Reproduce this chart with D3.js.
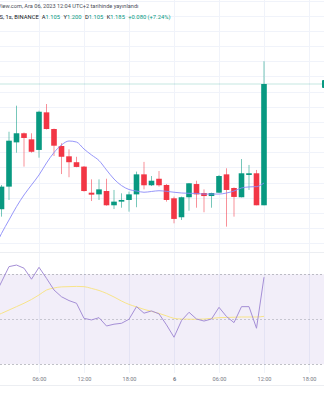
<!DOCTYPE html>
<html><head><meta charset="utf-8">
<script src="https://cdn.jsdelivr.net/npm/d3@7"></script>
<style>
html,body{margin:0;padding:0;background:#fff;overflow:hidden}
svg{display:block}
text{font-family:Roboto,"Noto Sans",sans-serif}
</style>
</head><body>
<svg id="chart" width="324" height="400"></svg>
<script>
// Hourly bars, Dec 5 00:00 -> Dec 6 12:00
const firstBar = Date.UTC(2023, 11, 5, 0, 0);
const opens  = [1.0990,1.1024,1.1173,1.1465,1.1525,1.1485,1.1415,1.1663,1.1553,1.1441,1.1373,1.1334,1.1305,1.1133,1.1122,1.1144,1.1050,1.1074,1.1085,1.1122,1.1254,1.1182,1.1225,1.1184,1.1096,1.0971,1.1103,1.1190,1.1131,1.1111,1.1133,1.1254,1.1164,1.1103,1.1250,1.1261,1.1050];
const highs  = [1.1030,1.1184,1.1535,1.1707,1.1530,1.1525,1.1674,1.1718,1.1556,1.1459,1.1419,1.1370,1.1309,1.1221,1.1221,1.1225,1.1151,1.1129,1.1140,1.1272,1.1336,1.1243,1.1276,1.1190,1.1107,1.1107,1.1197,1.1212,1.1155,1.1133,1.1250,1.1294,1.1168,1.1355,1.1316,1.1283,1.2000];
const lows   = [1.0960,1.0975,1.1085,1.1397,1.1305,1.1397,1.1364,1.1550,1.1375,1.1256,1.1235,1.1301,1.1140,1.1078,1.1085,1.1047,1.1025,1.1034,1.1008,1.1037,1.1155,1.1177,1.1173,1.1074,1.0931,1.0953,1.1014,1.1034,1.1004,1.1034,1.1131,1.0909,1.0975,1.1102,1.1151,1.1050,1.1050];
const closes = [1.1024,1.1173,1.1476,1.1525,1.1494,1.1403,1.1667,1.1553,1.1443,1.1370,1.1334,1.1303,1.1144,1.1120,1.1155,1.1050,1.1074,1.1085,1.1122,1.1254,1.1182,1.1212,1.1182,1.1085,1.0960,1.1103,1.1195,1.1122,1.1111,1.1131,1.1243,1.1151,1.1105,1.1261,1.1261,1.1050,1.1850];
const maValues = [1.0762,1.0864,1.0953,1.1041,1.1118,1.1184,1.1250,1.1329,1.1398,1.1448,1.1474,1.1467,1.1421,1.1382,1.1345,1.1283,1.1223,1.1180,1.1154,1.1144,1.1136,1.1141,1.1146,1.1142,1.1136,1.1131,1.1129,1.1128,1.1124,1.1124,1.1124,1.1131,1.1144,1.1164,1.1171,1.1173,1.1197];
const rsiValues = [59.9,66.6,73.4,74.1,72.7,67.8,73.1,68.2,63.0,60.0,58.3,57.1,50.4,49.7,50.7,47.0,47.8,48.2,50.0,55.6,52.7,53.7,52.4,47.5,42.0,49.4,53.1,50.1,49.2,50.1,55.3,51.2,48.5,55.6,55.6,46.0,68.7];
const rsiMaValues = [51.2,52.6,54.1,55.6,57.1,58.8,60.8,63.0,63.9,64.4,64.5,64.6,64.5,63.7,62.8,61.5,59.9,58.1,56.6,55.5,54.4,53.5,52.6,51.5,50.4,50.1,50.0,50.0,50.1,50.4,50.7,50.8,50.9,51.0,51.0,51.0,51.3];
const rsiLevels = [70, 50, 30];
const tickTimes = [Date.UTC(2023,11,5,6),Date.UTC(2023,11,5,12),Date.UTC(2023,11,5,18),Date.UTC(2023,11,6,0),Date.UTC(2023,11,6,6),Date.UTC(2023,11,6,12),Date.UTC(2023,11,6,18)];
const tickLabels = ["06:00","12:00","18:00","6","06:00","12:00","18:00"];
const priceGrid = d3.range(108, 125).map(v => v / 100);
const headerLine1 = "TradingView.com, Ara 06, 2023 12:04 UTC+2 tarihinde yayınlandı";
const symbolText = "S, 1s, BINANCE";
const ohlcLabels = ["A", "Y", "D", "K"];
const ohlcText = ["1.105", "1.200", "1.105", "1.185"];
const changeText = "+0.080 (+7.24%)";
const lastPrice = 1.185;

const UP = "#089981", DOWN = "#f23645";
const W = 324;
const bars = opens.map((o, i) => ({
  t: new Date(firstBar + i * 3600e3), o, h: highs[i], l: lows[i], c: closes[i],
  ma: maValues[i], rsi: rsiValues[i], rsiMa: rsiMaValues[i]
}));

const svg = d3.select("#chart");
const x = d3.scaleUtc()
  .domain([new Date(Date.UTC(2023,11,5,0,48)), new Date(Date.UTC(2023,11,6,20,0))])
  .range([0, W]);
const mainTop = 0, mainBottom = 252;
const y = d3.scaleLinear().domain([1.07418, 1.24041]).range([mainBottom, mainTop]);
const rsiTop = 252, rsiBottom = 373;
const yr = d3.scaleLinear().domain([26.1, 79.9]).range([rsiBottom, rsiTop]);

// vertical grid
svg.append("g").selectAll("line").data(tickTimes).join("line")
  .attr("x1", d => Math.round(x(d)) + 0.5).attr("x2", d => Math.round(x(d)) + 0.5)
  .attr("y1", 0).attr("y2", rsiBottom)
  .attr("stroke", "#f0f3fa").attr("stroke-width", 1);

// horizontal price grid
svg.append("g").selectAll("line").data(priceGrid).join("line")
  .attr("x1", 0).attr("x2", W)
  .attr("y1", d => Math.round(y(d)) + 0.5).attr("y2", d => Math.round(y(d)) + 0.5)
  .attr("stroke", "#f0f3fa").attr("stroke-width", 1);

// pane separator
svg.append("line").attr("x1", 0).attr("x2", W).attr("y1", 252.5).attr("y2", 252.5)
  .attr("stroke", "#eceef2");

// RSI background band
svg.append("rect").attr("x", 0).attr("width", W)
  .attr("y", yr(70)).attr("height", yr(30) - yr(70))
  .attr("fill", "rgba(126,87,194,0.1)");
svg.append("g").selectAll("line").data(rsiLevels).join("line")
  .attr("x1", 0).attr("x2", W)
  .attr("y1", d => Math.round(yr(d)) + 0.5).attr("y2", d => Math.round(yr(d)) + 0.5)
  .attr("stroke", "#787b86").attr("stroke-opacity", d => d === 50 ? 0.35 : 0.45)
  .attr("stroke-dasharray", "2,2");

// last price line
svg.append("line").attr("x1", 0).attr("x2", W)
  .attr("y1", y(lastPrice)).attr("y2", y(lastPrice))
  .attr("stroke", UP).attr("stroke-opacity", 0.3).attr("stroke-width", 0.8);
svg.append("rect").attr("x", 322).attr("y", y(lastPrice) - 4).attr("width", 12).attr("height", 8)
  .attr("rx", 1).attr("fill", UP);

// candles
const bw = 5.6;
const cg = svg.append("g").selectAll("g").data(bars).join("g");
cg.append("line")
  .attr("x1", d => x(d.t)).attr("x2", d => x(d.t))
  .attr("y1", d => y(d.h)).attr("y2", d => y(d.l))
  .attr("stroke", d => d.c >= d.o ? UP : DOWN).attr("stroke-opacity", 0.55).attr("stroke-width", 1);
cg.append("rect")
  .attr("x", d => x(d.t) - bw / 2).attr("width", bw)
  .attr("y", d => y(Math.max(d.o, d.c)))
  .attr("height", d => Math.max(1, Math.abs(y(d.o) - y(d.c))))
  .attr("fill", d => d.c >= d.o ? UP : DOWN);

// moving average
svg.append("path").datum(bars)
  .attr("d", d3.line().x(d => x(d.t)).y(d => y(d.ma)).curve(d3.curveMonotoneX))
  .attr("fill", "none").attr("stroke", "#8a8af8").attr("stroke-width", 0.9);

// RSI and its MA
svg.append("path").datum(bars)
  .attr("d", d3.line().x(d => x(d.t)).y(d => yr(d.rsiMa)).curve(d3.curveMonotoneX))
  .attr("fill", "none").attr("stroke", "#f8e48a").attr("stroke-width", 1);
svg.append("path").datum(bars)
  .attr("d", d3.line().x(d => x(d.t)).y(d => yr(d.rsi)))
  .attr("fill", "none").attr("stroke", "#a58fd6").attr("stroke-width", 1);

// time axis
const axis = d3.axisBottom(x).tickValues(tickTimes.map(t => new Date(t)))
  .tickFormat((d, i) => tickLabels[i]).tickSize(0).tickPadding(0);
const ag = svg.append("g").attr("transform", `translate(0,${rsiBottom + 4})`).call(axis);
ag.select(".domain").remove();
ag.selectAll("text").attr("fill", "#787b86").attr("font-size", 5.6)
  .attr("font-weight", (d, i) => tickLabels[i].length < 3 ? 700 : 400);
svg.append("line").attr("x1", 0).attr("x2", W).attr("y1", 385.5).attr("y2", 385.5)
  .attr("stroke", "#eceef2");

// header
const h1 = svg.append("text").attr("y", 8).attr("font-size", 5.6).attr("fill", "#4a4d57").text(headerLine1);
const cut = h1.node().getSubStringLength(0, headerLine1.indexOf("iew.com"));
h1.attr("x", -cut + 1.2);
const h2 = svg.append("text").attr("x", -0.5).attr("y", 19).attr("font-size", 5.8).attr("fill", "#131722");
h2.append("tspan").text(symbolText);
ohlcLabels.forEach((lab, i) => {
  h2.append("tspan").attr("dx", i === 0 ? 3 : 3.4).text(lab);
  h2.append("tspan").attr("fill", UP).text(ohlcText[i]);
});
h2.append("tspan").attr("dx", 3.4).attr("fill", UP).text(changeText);
</script>
</body></html>
